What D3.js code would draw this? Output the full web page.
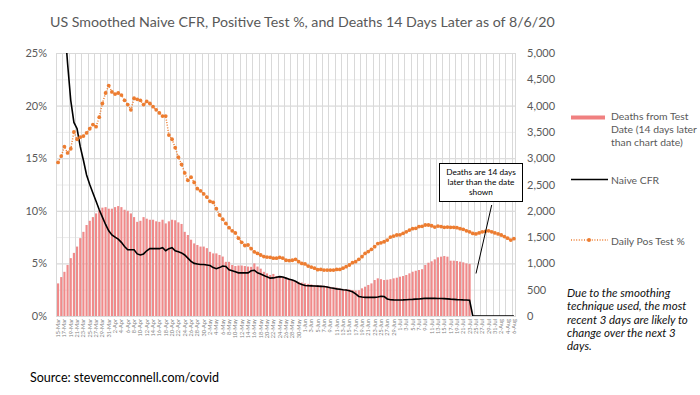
<!DOCTYPE html>
<html><head><meta charset="utf-8">
<script src="https://cdn.jsdelivr.net/npm/d3@7"></script>
<style>body{margin:0;background:#fff}svg{display:block}text{font-family:Lato,"Open Sans",sans-serif}</style>
</head><body><svg id="c" width="700" height="395"></svg>
<script>
const startDate = new Date(2020, 2, 15);
const nDays = 145;
const leftTicks = [0, 5, 10, 15, 20, 25];
const rightTicks = [0, 500, 1000, 1500, 2000, 2500, 3000, 3500, 4000, 4500, 5000];
// Deaths from test date (14 days later), per day from 15-Mar
const deaths = [620,740,840,970,1100,1200,1320,1480,1600,1730,
1810,1880,1950,2010,2060,2070,2040,2040,2070,2090,
2070,2020,2000,1950,1880,1790,1810,1880,1850,1830,
1830,1800,1790,1830,1760,1800,1830,1820,1780,1750,
1600,1540,1450,1380,1350,1320,1320,1290,1220,1190,
1190,1160,1130,1030,1030,970,950,960,960,950,
940,935,1000,940,900,840,810,780,800,760,
750,745,730,715,685,665,650,635,620,610,
600,590,585,580,575,565,555,545,540,525,
515,510,505,494,485,490,526,557,590,620,
684,716,700,684,690,700,716,728,747,760,
780,811,842,860,874,890,970,1013,1040,1077,
1115,1128,1140,1128,1052,1052,1045,1033,1020,1000,990];
// Naive CFR %
const cfr = [40,33,28,24,20.5,18.4,17.8,16.1,14.8,13.4,
12.5,11.7,10.9,10.1,9.4,8.7,8.1,7.7,7.5,7.3,
7.0,6.6,6.3,6.3,6.3,5.9,5.8,5.9,6.2,6.4,
6.4,6.4,6.4,6.5,6.2,6.4,6.5,6.2,6.1,6.0,
5.8,5.5,5.2,5.0,4.95,4.9,4.9,4.85,4.8,4.6,
4.5,4.6,4.75,4.7,4.4,4.3,4.2,4.1,4.1,4.1,
4.1,4.3,4.35,4.1,4.0,3.85,3.72,3.6,3.62,3.68,
3.74,3.7,3.6,3.5,3.42,3.3,3.12,3.0,2.9,2.87,
2.86,2.85,2.84,2.82,2.8,2.75,2.68,2.63,2.58,2.54,
2.5,2.47,2.4,2.3,2.1,1.86,1.8,1.77,1.77,1.77,
1.77,1.8,1.88,1.85,1.62,1.55,1.53,1.52,1.52,1.53,
1.55,1.57,1.58,1.6,1.62,1.65,1.68,1.68,1.68,1.68,
1.67,1.66,1.65,1.63,1.6,1.58,1.56,1.55,1.53,1.52,1.5,
0,0,0,0,0,0,0,0,0,0,0,0,0,0];
// Daily positive test %
const posTest = [14.6,15.2,16.1,15.5,15.9,17.5,16.8,17.0,17.1,17.4,
17.8,18.2,18.0,18.9,20.2,21.2,21.9,21.3,21.1,21.2,
21.0,20.5,20.1,19.6,20.7,20.6,20.5,20.1,20.4,20.2,
19.9,19.6,19.3,19.0,19.0,17.2,16.8,16.0,15.1,14.4,
13.6,12.9,13.2,12.7,12.1,11.9,11.6,11.3,10.9,10.8,
10.2,9.6,9.2,8.8,8.4,8.1,7.9,7.4,7.0,6.7,
6.75,6.4,6.1,5.95,5.8,5.65,5.6,5.58,5.5,5.5,
5.58,5.5,5.3,5.27,5.3,5.39,5.16,5.0,4.95,4.75,
4.65,4.55,4.4,4.43,4.37,4.37,4.37,4.37,4.43,4.43,
4.55,4.69,4.85,5.07,5.16,5.39,5.64,5.96,6.12,6.34,
6.59,6.88,6.96,7.06,7.22,7.5,7.6,7.7,7.72,7.86,
8.0,8.17,8.3,8.33,8.5,8.52,8.65,8.65,8.58,8.45,
8.55,8.5,8.43,8.45,8.43,8.43,8.4,8.3,8.24,8.1,
8.0,7.85,7.8,7.9,8.0,8.05,8.1,8.0,7.9,7.8,
7.7,7.55,7.4,7.22,7.35];
const legendLabels = ["Deaths from Test", "Date (14 days later", "than chart date)"];
const noteLines = ["Due to the smoothing", "technique used, the most", "recent 3 days are likely to", "change over the next 3", "days."];
const annoLines = ["Deaths are 14 days", "later than the date", "shown"];

const fmt = d3.timeFormat("%-d-%b");
const dates = d3.range(nDays).map(i => d3.timeDay.offset(startDate, i));
const labels = dates.map(fmt);

const svg = d3.select("#c");
const L = 56, R = 516, T = 53, B = 316;
const x = d3.scaleBand().domain(d3.range(nDays)).range([L, R]).padding(0.32);
const step = x.step();
const yL = d3.scaleLinear().domain([0, 25]).range([B, T]);
const yR = d3.scaleLinear().domain([0, 5000]).range([B, T]);

// scale a group of texts so that a reference text has the target width
function fit(sel, refNode, target, base) {
  const w = refNode.getComputedTextLength();
  const s = base * target / w;
  sel.style("font-size", s + "px");
}

svg.append("defs").append("clipPath").attr("id","pc").append("rect")
  .attr("x", L).attr("y", T).attr("width", R - L).attr("height", B - T);

// gridlines
const g = svg.append("g");
g.selectAll(".gr").data(rightTicks).join("line")
  .attr("x1", L).attr("x2", R).attr("y1", d => yR(d)+0.5).attr("y2", d => yR(d)+0.5)
  .attr("stroke", "#ececec").attr("stroke-width", 1);
g.selectAll(".gl").data(leftTicks).join("line")
  .attr("x1", L).attr("x2", R).attr("y1", d => yL(d)+0.5).attr("y2", d => yL(d)+0.5)
  .attr("stroke", "#d9d9d9").attr("stroke-width", 1);
const vIdx = d3.range(0, nDays + 1, 2);
g.selectAll(".gv").data(vIdx.concat([nDays])).join("line")
  .attr("x1", d => Math.round(L + d * step) + 0.5).attr("x2", d => Math.round(L + d * step) + 0.5)
  .attr("y1", T).attr("y2", B)
  .attr("stroke", "#d9d9d9").attr("stroke-width", 1);

// bars
svg.append("g").selectAll("rect").data(deaths).join("rect")
  .attr("x", (d, i) => x(i)).attr("width", x.bandwidth())
  .attr("y", d => yR(d)).attr("height", d => B - yR(d))
  .attr("fill", "#f08a8a");

const plot = svg.append("g").attr("clip-path", "url(#pc)");
plot.append("path").datum(cfr)
  .attr("d", d3.line().x((d, i) => x(i) + x.bandwidth()/2).y(d => yL(d)))
  .attr("fill", "none").attr("stroke", "#000").attr("stroke-width", 1.6);
plot.append("path").datum(posTest)
  .attr("d", d3.line().x((d, i) => x(i) + x.bandwidth()/2).y(d => yL(d)))
  .attr("fill", "none").attr("stroke", "#ed7d31").attr("stroke-width", 1.5)
  .attr("stroke-dasharray", "1 1.6");
plot.append("g").selectAll("circle").data(posTest).join("circle")
  .attr("cx", (d, i) => x(i) + x.bandwidth()/2).attr("cy", d => yL(d)).attr("r", 1.9)
  .attr("fill", "#ed7d31");

// axes
const axL = svg.append("g").attr("transform", `translate(${L},0)`)
  .call(d3.axisLeft(yL).tickValues(leftTicks).tickFormat(d => d + "%").tickSize(0).tickPadding(9));
const axR = svg.append("g").attr("transform", `translate(${R},0)`)
  .call(d3.axisRight(yR).tickValues(rightTicks).tickFormat(d3.format(",")).tickSize(0).tickPadding(11));
const axB = svg.append("g").attr("transform", `translate(0,${B})`)
  .call(d3.axisBottom(x).tickValues(d3.range(0, nDays, 2)).tickFormat(i => labels[i]).tickSize(0));
[axL, axR, axB].forEach(a => { a.select(".domain").remove(); });
axL.selectAll("text").attr("fill", "#595959").style("font-size", "11px");
axR.selectAll("text").attr("fill", "#595959").style("font-size", "11px");
axB.selectAll("text").attr("fill", "#7f7f7f").style("font-size", "5.6px")
  .attr("transform", "rotate(-90)").attr("text-anchor", "end")
  .attr("x", -3).attr("y", 0).attr("dy", "0.35em");

// title
const title = svg.append("text").attr("x", 50).attr("y", 27).attr("fill", "#595959")
  .style("font-size", "15px").text("US Smoothed Naive CFR, Positive Test %, and Deaths 14 Days Later as of 8/6/20");
fit(title, title.node(), 505, 15);

// legend
const lg = svg.append("g");
lg.append("rect").attr("x", 571).attr("y", 115.5).attr("width", 34).attr("height", 4).attr("fill", "#f08080");
const lt = lg.selectAll(".lt").data(legendLabels).join("text")
  .attr("x", 611).attr("y", (d, k) => 120 + k * 13).attr("fill", "#595959").style("font-size", "11px").text(d => d);
lg.append("line").attr("x1", 571).attr("x2", 608).attr("y1", 179.5).attr("y2", 179.5).attr("stroke", "#000").attr("stroke-width", 1.6);
const l2 = lg.append("text").attr("x", 611).attr("y", 183.5).attr("fill", "#595959").style("font-size", "11px").text("Naive CFR");
lg.append("line").attr("x1", 571).attr("x2", 608).attr("y1", 240).attr("y2", 240).attr("stroke", "#ed7d31").attr("stroke-width", 1.5).attr("stroke-dasharray", "1 1.6");
lg.append("circle").attr("cx", 589).attr("cy", 240).attr("r", 2).attr("fill", "#ed7d31");
const l3 = lg.append("text").attr("x", 611).attr("y", 244.5).attr("fill", "#595959").style("font-size", "11px").text("Daily Pos Test %");
fit(lg.selectAll("text"), lt.nodes()[1], 86, 11);

// note
const nt = svg.append("g").selectAll("text").data(noteLines).join("text")
  .attr("x", 567).attr("y", (d, k) => 297 + k * 13.3).attr("fill", "#111")
  .style("font-size", "10.5px").style("font-style", "italic").text(d => d);
fit(nt, nt.nodes()[2], 121, 10.5);

// annotation
const an = svg.append("g");
an.append("line").attr("x1", 491.7).attr("y1", 205).attr("x2", 476).attr("y2", 273.5).attr("stroke", "#000").attr("stroke-width", 1);
an.append("rect").attr("x", 439.5).attr("y", 163.5).attr("width", 83).attr("height", 38).attr("fill", "#fff").attr("stroke", "#000").attr("stroke-width", 1);
an.selectAll(".at").data(annoLines).join("text")
  .attr("x", 481).attr("y", (d, k) => 175 + k * 10).attr("text-anchor", "middle").attr("fill", "#000").style("font-size", "8.3px").text(d => d);

// source
svg.append("text").attr("x", 30).attr("y", 382).attr("fill", "#000").style("font-size", "12.5px").text("Source: stevemcconnell.com/covid");
</script></body></html>
